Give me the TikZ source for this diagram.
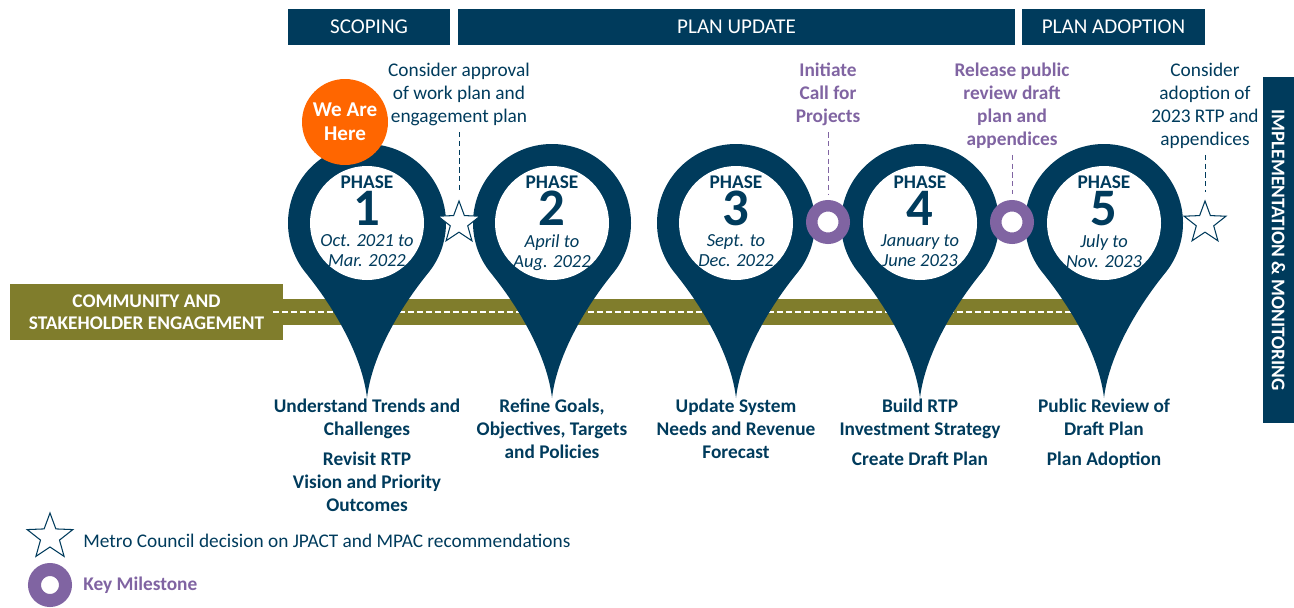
\documentclass[tikz,border=0pt]{standalone}
\usepackage{fontspec}
\setmainfont{Carlito}
\usetikzlibrary{shapes.geometric}
\definecolor{navy}{HTML}{003B5C}
\definecolor{olivegreen}{HTML}{807D2C}
\definecolor{mileviolet}{HTML}{8064A2}
\definecolor{hereorange}{HTML}{FF6600}

\begin{document}
\begin{tikzpicture}[x=0.02cm, y=-0.02cm,
    hdr/.style={fill=navy, text=white, minimum height=0.74cm, inner sep=0pt, font=\fontsize{12}{14}\selectfont},
    note/.style={align=center, text=navy, inner sep=0pt, anchor=north, font=\fontsize{11}{13}\selectfont},
    keynote/.style={note, text=mileviolet, font=\fontsize{11}{13}\selectfont\bfseries},
    task/.style={align=center, text=navy, inner sep=0pt, anchor=north, font=\fontsize{11}{13}\selectfont\bfseries},
    phase/.style={text=navy, anchor=base, inner sep=0pt, text depth=0pt, font=\fontsize{11}{13}\selectfont\bfseries},
    phasenum/.style={text=navy, anchor=base, inner sep=0pt, text height=18pt, text depth=0pt, font=\fontsize{30}{30}\selectfont\bfseries},
    dates/.style={text=navy, align=center, anchor=north, inner sep=0pt, font=\fontsize{10.5}{11.5}\selectfont\itshape},
    decision/.style={star, star points=5, star point ratio=2.4, draw=navy, fill=white, line width=0.6pt, minimum size=0.88cm, inner sep=0pt},
    milestone/.style={circle, draw=mileviolet, fill=white, line width=0.23cm, minimum size=0.65cm, inner sep=0pt},
    leader/.style={densely dashed, line width=0.5pt},
    mapmarker/.pic={
        \fill[navy] (0,175) .. controls (-4,140) and (-25,95) .. (140:79)
            arc[start angle=140, end angle=400, radius=79]
            .. controls (25,95) and (4,140) .. (0,175) -- cycle;
        \fill[white] (0,0) circle[radius=57];
    }]
    \useasboundingbox (0,0) rectangle (1294,608);

    % headers
    \node[hdr, minimum width=3.24cm] (scoping) at (369,27) {SCOPING};
    \node[hdr, minimum width=11.14cm] (update) at (736.5,27) {PLAN UPDATE};
    \node[hdr, minimum width=3.66cm] (adoption) at (1113.5,27) {PLAN ADOPTION};

    % engagement band
    \fill[olivegreen] (273,299) rectangle (1104,325);
    \node[fill=olivegreen, text=white, align=center, minimum width=5.46cm, minimum height=1.12cm, inner sep=0pt, font=\fontsize{11}{12.5}\selectfont\bfseries] (engage) at (146.5,312) {COMMUNITY AND\\STAKEHOLDER ENGAGEMENT};
    \draw[white, line width=0.04cm, dash pattern=on 0.12cm off 0.06cm] (273,312) -- (1104,312);

    % implementation bar
    \node[fill=navy, text=white, rotate=-90, minimum width=6.92cm, minimum height=0.62cm, inner sep=0pt, font=\fontsize{11}{13}\selectfont\bfseries] (impl) at (1278.5,250) {IMPLEMENTATION \& MONITORING};

    % phases
    \pic at (367,223) {mapmarker};
    \pic at (552,223) {mapmarker};
    \pic at (736,223) {mapmarker};
    \pic at (920,223) {mapmarker};
    \pic at (1104,223) {mapmarker};

    \node[phase] (ph1) at (367,188) {PHASE};
    \node[phasenum] (num1) at (367,225) {1};
    \node[dates] (d1) at (367,234) {Oct. 2021 to\\Mar. 2022};
    \node[phase] (ph2) at (552,188) {PHASE};
    \node[phasenum] (num2) at (552,225) {2};
    \node[dates] (d2) at (552,234) {April to\\Aug. 2022};
    \node[phase] (ph3) at (736,188) {PHASE};
    \node[phasenum] (num3) at (736,225) {3};
    \node[dates] (d3) at (736,234) {Sept. to\\Dec. 2022};
    \node[phase] (ph4) at (920,188) {PHASE};
    \node[phasenum] (num4) at (920,225) {4};
    \node[dates] (d4) at (920,234) {January to\\June 2023};
    \node[phase] (ph5) at (1104,188) {PHASE};
    \node[phasenum] (num5) at (1104,225) {5};
    \node[dates] (d5) at (1104,234) {July to\\Nov. 2023};

    \node[circle, fill=hereorange, text=white, align=center, minimum size=1.72cm, inner sep=0pt, font=\fontsize{12}{13.5}\selectfont\bfseries] (here) at (345,122) {We Are\\Here};

    % decisions and milestones
    \node[decision] (s1) at (459,223) {};
    \node[milestone] (m1) at (828,222) {};
    \node[milestone] (m2) at (1012,222) {};
    \node[decision] (s2) at (1205,223) {};

    \node[note] (c1) at (459,63) {Consider approval\\of work plan and\\engagement plan};
    \node[keynote] (c2) at (828,63) {Initiate\\Call for\\Projects};
    \node[keynote] (c3) at (1012,63) {Release public\\review draft\\plan and\\appendices};
    \node[note] (c4) at (1205,63) {Consider\\adoption of\\2023 RTP and\\appendices};

    \draw[leader, navy, shorten <=0.12cm, shorten >=0.14cm] (c1) -- (s1);
    \draw[leader, mileviolet, shorten <=0.12cm, shorten >=0.12cm] (c2) -- (m1);
    \draw[leader, mileviolet, shorten <=0.12cm, shorten >=0.12cm] (c3) -- (m2);
    \draw[leader, navy, shorten <=0.12cm, shorten >=0.14cm] (c4) -- (s2);

    % tasks
    \node[task] (t1) at (367,399) {Understand Trends and\\Challenges\\[4pt]Revisit RTP\\Vision and Priority\\Outcomes};
    \node[task] (t2) at (552,399) {Refine Goals,\\Objectives, Targets\\and Policies};
    \node[task] (t3) at (736,399) {Update System\\Needs and Revenue\\Forecast};
    \node[task] (t4) at (920,399) {Build RTP\\Investment Strategy\\[4pt]Create Draft Plan};
    \node[task] (t5) at (1104,399) {Public Review of\\Draft Plan\\[4pt]Plan Adoption};

    % legend
    \node[decision, minimum size=0.96cm] (key1) at (50,537) {};
    \node[note, anchor=west] (key1t) at (83,541) {Metro Council decision on JPACT and MPAC recommendations};
    \node[milestone, minimum size=0.62cm, line width=0.26cm] (key2) at (50,585) {};
    \node[keynote, anchor=west] (key2t) at (83,585) {Key Milestone};
\end{tikzpicture}
\end{document}
